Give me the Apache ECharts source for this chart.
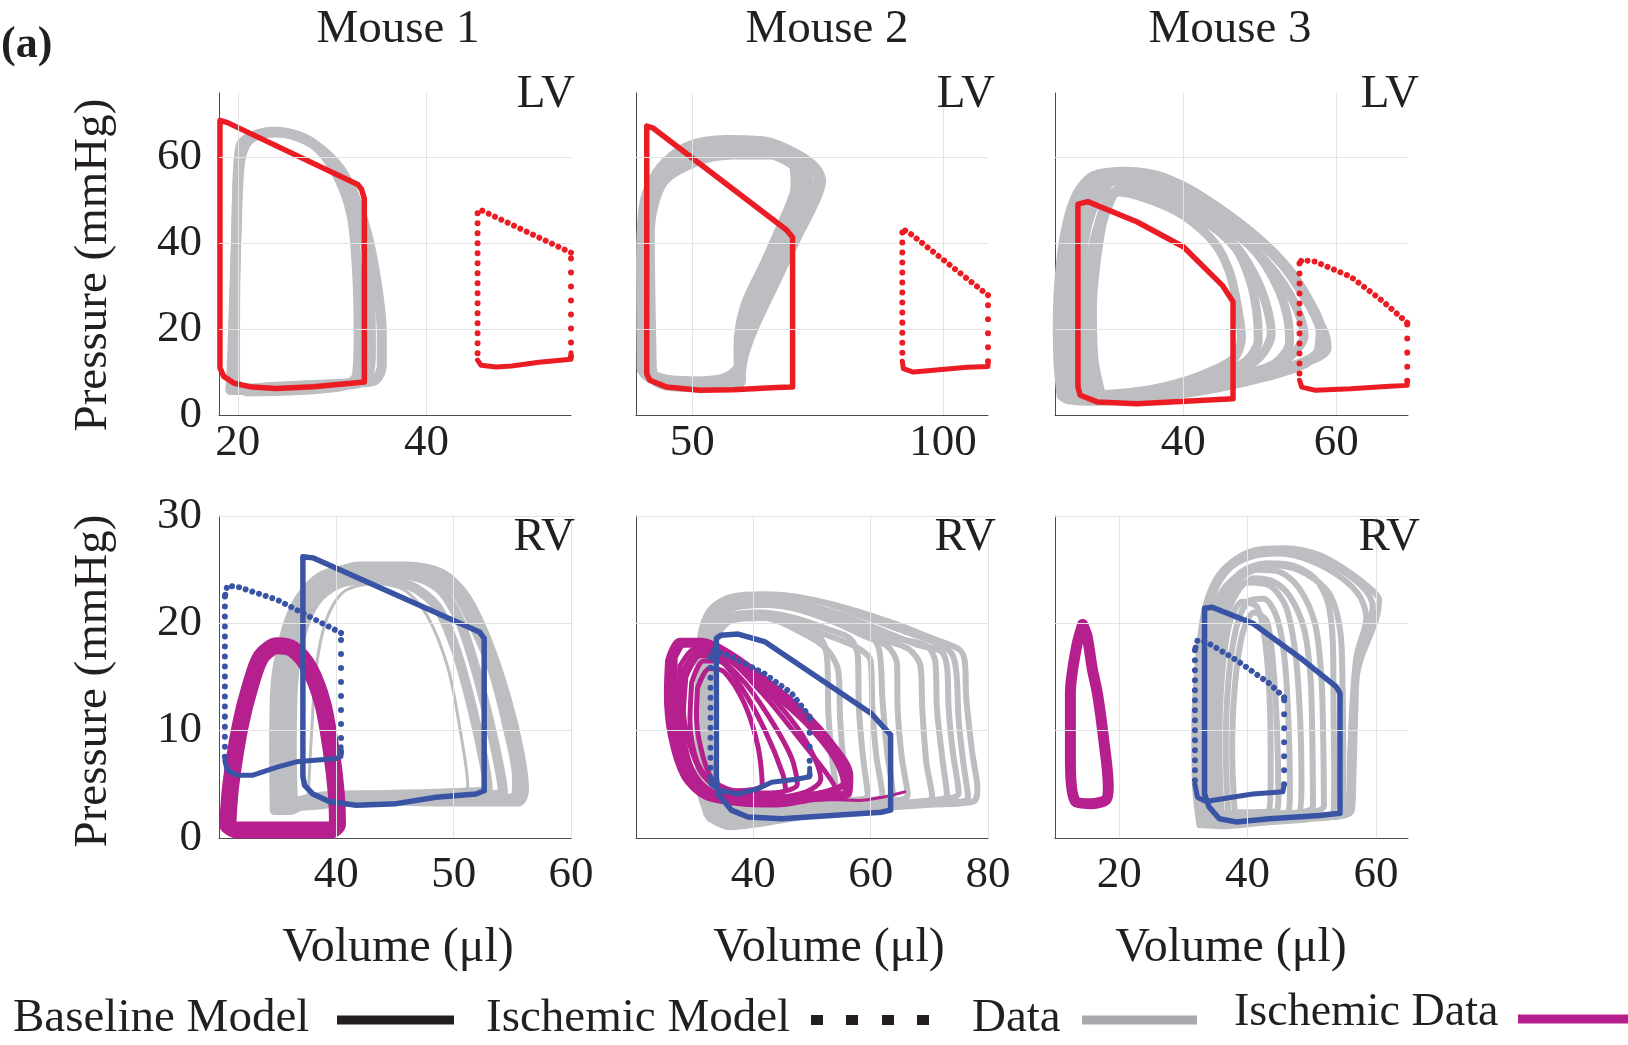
<!DOCTYPE html>
<html><head><meta charset="utf-8">
<script src="https://cdn.jsdelivr.net/npm/echarts@6/dist/echarts.min.js"></script>
<style>html,body{margin:0;padding:0;background:#fff}#c{width:1628px;height:1045px}</style>
</head><body><div id="c"></div>
<script>
// ---------- tick labels / grid values ----------
const lvYTicks = [0, 20, 40, 60];
const rvYTicks = [0, 10, 20, 30];
const lvYGrid = [20, 40, 60];
const rvYGrid = [10, 20, 30];
const p1XTicks = [20, 40];
const p2XTicks = [50, 100];
const p3XTicks = [40, 60];
const p4XTicks = [40, 50, 60];
const p5XTicks = [40, 60, 80];
const p6XTicks = [20, 40, 60];
const xRanges = [[18, 55.3], [38.75, 109], [23.2, 69.4], [30, 60], [20, 80], [10, 65]];
const mouseTitles = ['Mouse 1', 'Mouse 2', 'Mouse 3'];

// ---------- Panel 1: LV, Mouse 1 ----------
const p1DataA = [[19.2,5.8],[19.35,11.2],[19.75,34.5],[20.15,57.3],[20.8,63],[22,65.2],[23.8,66.0],[26.3,64.9],[28.9,61.7],[31.3,55.8],[33.3,45.3],[34.55,33],[35.25,19],[35.25,11.4],[34.6,8.2],[33.3,7.6],[23.3,6.5],[20.2,5.8],[19.2,5.8]];
const p1DataB = [[19.7,8.0],[19.7,19],[19.9,50],[20.3,62.8],[21.4,64.8],[24.1,65.9],[27.8,63.5],[30.3,56.8],[32.0,47],[32.6,34.5],[32.8,19],[32.6,9.2],[30.8,6.6],[21,5.5],[19.9,7.0],[19.7,8.0]];
const p1DataC = [[19.5,6.5],[19.5,15],[19.8,40],[20.2,60],[21.2,64.5],[23.9,65.8],[27,64.4],[29.7,59.5],[32,51],[33.5,40],[34.0,28],[34.1,15],[33.8,9],[32.5,7.3],[23,6.3],[20.2,6.2],[19.5,6.5]];
const p1Base = [[33.4,7.7],[33.4,50.4],[33.1,52.6],[32.7,53.7],[18.9,68.1],[18.1,68.6],[18.1,11],[18.5,9.0],[19.6,7.4],[21.5,6.5],[24,6.2],[28,6.6],[33.4,7.7]];
const p1IschContr = [[55.3,13.6],[55.3,37.8]];
const p1IschEject = [[55.3,37.8],[45.7,47.8],[45.4,47.4]];
const p1IschRelax = [[45.4,47.0],[45.4,12.8]];
const p1IschFill = [[45.4,12.8],[45.75,11.6],[47.4,11.2],[49,11.4],[51.9,12.3],[55.3,13.0],[55.3,14.5]];

// ---------- Panel 2: LV, Mouse 2 ----------
const p2DataA = [[40.1,10.6],[39.95,34.5],[40.7,49.8],[43.8,57.4],[49.2,62.3],[56.9,63.8],[64.6,63.4],[70.8,60.5],[74.4,57.4],[75.5,54.6],[74.4,50.3],[70.4,40.9],[65.7,29.4],[61.7,19.4],[59.8,12.9],[59.2,9.2],[54.9,7.5],[45,7.9],[41.1,9.2],[40.1,10.6]];
const p2DataB = [[41.7,11.2],[41.3,42.3],[43.8,54.1],[50.5,59.2],[58.2,60.9],[66.4,60.9],[70.5,58.0],[70.8,53.2],[68.7,46.0],[64.7,35.3],[60.7,25.2],[59.4,15.9],[59.5,8.0],[51.5,6.7],[44.9,7.1],[42.3,8.5],[41.7,11.2]];
const p2DataC = [[40.9,10.8],[40.6,38],[41.8,51.5],[46.5,59.5],[53.5,62.2],[61.5,62.3],[68.5,59.7],[72.5,56],[73.1,53.8],[71.5,48.2],[67.5,39],[63.2,27.5],[60.5,18.5],[59.4,11],[56,8.2],[48,7.5],[42.5,8.8],[40.9,10.8]];
const p2Base = [[70.0,6.5],[70.0,41.4],[68.8,43.1],[42.2,66.8],[40.9,67.3],[40.9,9.6],[41.5,8.1],[44.9,6.5],[51.5,5.75],[58.2,5.9],[66.8,6.4],[70.0,6.5]];
const p2IschContr = [[109,12.5],[109,27.9]];
const p2IschEject = [[109,27.9],[93,42.7],[92.2,43.1],[91.9,42.5]];
const p2IschRelax = [[91.9,42.5],[91.9,12.5]];
const p2IschFill = [[91.9,12.5],[92.1,10.8],[94.1,10.0],[98.1,10.4],[104.8,11.1],[109,11.3],[109,12.5]];

// ---------- Panel 3: LV, Mouse 3 ----------
const p3DataA = [[24.0,4.5],[23.6,12],[23.5,22],[23.9,35],[24.8,45],[26.2,52],[28.3,55.8],[32.5,56.8],[37.5,55.3],[42.5,50.3],[48.5,42.3],[52.8,35.3],[55.5,28.5],[57.5,22],[58.3,16.5],[56,12],[50,8.5],[42,5.5],[34,3.8],[28,3.2],[24.8,3.6],[24.0,4.5]];
const p3DataB = [[25.2,4.5],[24.8,14],[24.9,28],[25.6,42],[27,50],[29.5,54],[33.5,54.6],[38.5,52],[44,46],[49,39],[52.5,32],[54.8,25],[55.8,18.5],[53.5,13],[48.5,9.5],[41,6.5],[33,4.5],[27.5,4.0],[25.2,4.5]];
const p3DataC = [[27.5,4.5],[27.0,12],[27.2,24],[27.8,36],[29.0,45],[30.5,51.5],[33,52.5],[37.5,50.3],[42,46],[46.5,40],[49.2,33],[50.8,26],[51.5,19],[50,13.5],[46.5,9.5],[40,7],[33,5],[27.5,4.5]];
const p3DataD = [[29.3,4.5],[28.3,13],[28.1,25],[28.8,38.4],[30.0,49],[31.3,52],[35.4,50.3],[40,46.5],[44.1,40],[46.1,33],[47.2,24],[47.6,18],[46.5,13],[42,9],[36,6],[29.3,4.5]];
const p3DataE = [[26,5],[25.5,15],[26,30],[26.8,44],[28.5,53],[31,56],[35,56],[40,53],[45.5,47],[50.5,40],[54,33],[56.5,26],[58.5,19],[58.8,15.5],[57,13],[52,10.5],[45,8],[37,5.5],[30,4.2],[26,5]];
const p3DataF = [[26.5,4.8],[26.0,14],[26.3,28],[27.2,42],[28.8,50.5],[31.2,54.8],[35,55],[39.5,52],[45,45.5],[49.5,38],[52.3,30],[53.6,23],[53.9,17],[52,12],[47,9],[40,6.2],[33,4.5],[26.5,4.8]];
const p3DataG = [[28.3,4.6],[27.7,13],[27.8,26],[28.5,38],[29.8,47],[31.6,52.8],[34.2,53.2],[38.8,50.5],[43.2,45],[47,38.5],[48.8,31],[49.6,24],[49.8,17.5],[48.2,12.5],[44,9],[37,6],[28.3,4.6]];
const p3DataH = [[24.6,4.2],[24.2,13],[24.1,25],[24.7,38],[25.6,47],[27.3,53.5],[30,56.3],[34.5,56.2],[39.5,53.8],[44.2,48.8],[49.8,41.2],[53.8,34],[56.3,27.2],[57.9,20.5],[57.6,14.8],[54,11.2],[48,8.2],[40,5.2],[32,3.6],[27,3.4],[24.6,4.2]];
const p3Base = [[46.5,3.8],[46.5,26.4],[45.1,30.2],[40,39.2],[33.9,45.0],[27.5,49.7],[26.2,49.1],[26.2,6.5],[26.5,4.6],[28.8,3.0],[33.9,2.6],[41.5,3.3],[46.5,3.8]];
const p3IschContr = [[69.3,8.0],[69.3,21.5]];
const p3IschEject = [[69.3,21.5],[65.95,26.7],[61.9,32.2],[57.3,35.7],[55.5,36.1],[55.2,35.3]];
const p3IschRelax = [[55.2,35.3],[55.2,8.1]];
const p3IschFill = [[55.2,8.1],[55.5,6.5],[57.3,5.75],[61.9,6.1],[67,6.7],[69.3,6.9],[69.3,8.0]];

// ---------- Panel 4: RV, Mouse 1 ----------
const p4DataA = [[34.75,2.6],[34.7,8],[34.8,14],[35.5,18.5],[36.7,22],[38.6,24.3],[41.2,25.0],[45,24.9],[48.3,24.4],[50.1,23],[51.4,20.5],[53.3,15.7],[54.6,10.3],[55.4,5.5],[55.3,3.9],[53.5,3.6],[47,3.8],[41,3.7],[37.5,3.3],[36,2.6],[34.75,2.6]];
const p4DataB = [[36.3,3.3],[36.2,8],[36.3,14],[36.9,18.5],[38.2,22],[40.2,23.7],[43,24.1],[46.3,23.5],[48.6,21.5],[50.2,17.5],[51.6,12],[52.6,7],[52.9,4.5],[50,4.2],[44,4.0],[39,3.9],[36.3,3.3]];
const p4DataC = [[37.6,4.0],[37.9,10],[38.3,16],[39.2,20.5],[40.7,23.0],[43.4,23.7],[45.8,23.1],[47.8,20.6],[49.5,15.9],[50.5,10.4],[51.2,4.8],[50,4.3],[44,4.2],[40,4.1],[37.6,4.0]];
const p4DataD = [[35.5,3],[35.5,9],[35.8,16],[37,21],[39,24],[42,25.3],[46,25.3],[49,24.6],[51,22.5],[52.8,18.5],[54.5,13],[55.6,8],[56.0,4.5],[55.5,3.4],[50,3.4],[42,3.5],[37,3.0],[35.5,3]];
const p4DataE = [[35.8,3.2],[35.7,9],[36.0,15],[37.2,20],[39.2,23.3],[42,24.6],[45.5,24.6],[48.6,23.4],[50.4,20.5],[51.8,16],[53.0,11],[53.9,6.5],[54.2,4.2],[50,3.9],[44,3.9],[39,3.6],[35.8,3.2]];
const p4IschData = [[30.75,1.2],[31.0,4.9],[31.8,10.4],[32.7,14.3],[33.6,16.9],[34.95,17.9],[36.3,17.6],[37.7,15.8],[38.85,12.5],[39.6,7.9],[40.0,4.1],[40.1,1.3],[39.5,0.75],[34.95,0.75],[31.5,0.75],[30.75,1.2]];
const p4Base = [[52.6,4.4],[52.6,18.6],[52.2,19.2],[38.0,26.1],[37.15,26.2],[37.15,5.7],[37.3,4.9],[38.0,4.1],[39.4,3.4],[41.7,3.05],[45.1,3.2],[48.5,3.8],[51.9,4.1],[52.6,4.4]];
const p4IschContr = [[40.4,8.0],[40.4,19.1]];
const p4IschEject = [[40.4,19.1],[34.95,22.2],[31.6,23.4],[30.7,23.5],[30.5,22.5]];
const p4IschRelax = [[30.5,22.5],[30.5,7.2]];
const p4IschFill = [[30.5,7.2],[30.7,6.3],[31.6,5.85],[32.9,5.85],[34.95,6.6],[36.6,7.1],[40.0,7.4],[40.4,7.6],[40.4,8.5]];

// ---------- Panel 5: RV, Mouse 2 ----------
const p5DataA = [[32.5,1.8],[31.0,4],[30.5,10],[30.6,16],[31.2,19.5],[33,21.5],[36.5,22.5],[42,22.7],[48,22.4],[56,21.4],[64.5,19.9],[70.5,18.6],[75,17.6],[76,16.6],[76.3,13],[77.3,8],[78.2,4.5],[77.5,3.4],[70,3.1],[60,2.7],[50,2.1],[41,1.3],[36,1.0],[32.5,1.8]];
const p5DataB = [[33,2.5],[31.5,6],[31.2,12],[31.5,17],[32.8,19.8],[36,21.3],[42,21.7],[49,21.2],[56,19.8],[62,18.5],[66.5,17.6],[68.5,16],[68.8,12],[69.5,7],[70.5,3.8],[65,3.2],[55,2.8],[45,2.2],[38,1.8],[33,2.5]];
const p5DataC = [[33.5,3],[32,7],[31.8,13],[32.4,18],[34.5,20.3],[39,20.8],[46,20.2],[52,19],[57.5,17.8],[60,16.5],[60.3,12],[61,7.5],[62,4],[56,3.4],[47,2.9],[39,2.4],[33.5,3]];
const p5DataD = [[34,3.5],[32.6,8],[32.7,14],[33.5,18.5],[36.5,20.3],[42,20.5],[48,19.2],[52.5,17.6],[54.5,15.5],[54.8,11],[55.5,6.5],[56.3,4.0],[50,3.5],[42,3.0],[34,3.5]];
const p5DataE = [[32,2.2],[30.8,5.5],[30.5,11],[30.8,17.5],[32.3,20.6],[35,22],[40,22.4],[47,22.0],[55,20.8],[62,19.3],[68,18],[72,17.4],[73,16],[73.3,12],[74,8],[75,4.2],[70,3.5],[60,3.0],[50,2.5],[40,1.6],[35,1.4],[32,2.2]];
const p5DataF = [[33,2.8],[31.8,7],[31.6,13],[32.2,18.5],[34.5,21],[39,21.8],[46,21.5],[53,20.3],[59,18.8],[63,17.8],[64.5,16.2],[64.6,12],[65.3,7.5],[66.3,4],[60,3.3],[50,2.7],[40,2.2],[33,2.8]];
const p5DataG = [[33.5,3.2],[32.2,8],[32.3,14],[33,18.7],[35.5,20.6],[41,21],[47,20.5],[53,19.4],[56.5,18.6],[57.8,17],[58,12],[58.7,7.5],[59.5,4],[53,3.4],[44,2.8],[37,2.6],[33.5,3.2]];
const p5DataH = [[32.3,2.0],[31.2,5],[30.9,11],[31.0,17],[32,20.5],[34.5,21.9],[39,22.6],[45,22.6],[52,21.9],[59,20.6],[66,19.2],[71,18.2],[73.8,17.2],[74.6,15.5],[75,11],[75.8,7],[76.6,3.8],[70,3.2],[60,2.8],[50,2.3],[40,1.4],[32.3,2.0]];
const p5DataI = [[33.2,2.6],[31.9,6],[31.7,12],[32.1,18],[33.5,20.8],[37,21.8],[43,22.1],[50,21.5],[56,20.2],[60,19.0],[61.5,17.4],[62,13],[62.8,8],[63.8,4],[58,3.3],[48,2.6],[40,2.0],[33.2,2.6]];
const p5DataJ = [[33.8,3.3],[32.5,7.5],[32.5,13.5],[33.2,18.8],[36,20.6],[41,20.8],[47,20],[51.5,18.6],[52.6,16.5],[52.8,11.5],[53.5,7],[54.2,4.2],[48,3.6],[40,3.1],[33.8,3.3]];
const p5DataK = [[32.7,2.4],[31.5,6.5],[31.3,12.5],[31.7,18],[33.3,21.0],[37,22.0],[44,22.0],[51,21.2],[58,19.8],[64.5,18.6],[69.5,17.9],[71,16.5],[71.3,12],[72.2,7.5],[73,4.0],[66,3.3],[55,2.8],[45,2.0],[36,1.6],[32.7,2.4]];
const p5IschA = [[25.8,16.5],[27.5,18.2],[31,18.2],[36,17],[42,14.6],[48,11.8],[53,8.8],[56.2,5.8],[56,4.2],[50,3.8],[44,3.3],[38,3.4],[32,4.0],[28.5,5.8],[26.3,9.5],[25.6,13.5],[25.8,16.5]];
const p5IschB = [[27.5,16],[30,17.6],[34,17.2],[40,14.8],[45,12],[49,9],[51.5,5.5],[49,4.3],[42,3.7],[36,3.8],[31,5],[28.3,8],[27.3,12],[27.5,16]];
const p5IschC = [[29.5,14.5],[31.5,16.5],[34,16.5],[38,14],[42,10],[45,6],[45.5,4.5],[40,4.0],[34,4.6],[30.5,7],[29.2,11],[29.5,14.5]];
const p5IschD = [[28.5,15],[31,17],[35,16.8],[41.5,13.5],[47.5,9.5],[52.5,6.0],[54,4.6],[48,4.0],[40,3.6],[33,4.2],[29.5,6.5],[28,10.5],[28.5,15]];
const p5IschE = [[26.5,16.8],[28.5,18.3],[32.5,18.0],[37.5,16.3],[43.5,13.5],[49.5,10.5],[54,7.4],[55.5,5.2],[52,4.2],[45,3.6],[39,3.5],[33,4.2],[29.3,6.2],[27.2,9.8],[26.5,13.5],[26.5,16.8]];
const p5IschF = [[28,15.5],[30.5,17.3],[33.5,17.0],[38.5,14.5],[43,11],[46.5,7.5],[47.5,5],[43,4.2],[36,4.2],[31.5,5.8],[29,9],[28,12.5],[28,15.5]];
const p5IschG = [[30.5,14],[32.5,15.8],[35,15.5],[38.5,12.5],[40.8,8.5],[41.5,5],[37,4.4],[33,5.5],[31,8.5],[30.3,11.5],[30.5,14]];
const p5IschTail = [[52,3.6],[58,3.5],[62,3.8],[65.8,4.3]];
const p5Base = [[63.4,2.6],[63.4,9.6],[60.1,11.6],[41.9,18.3],[37.4,19.0],[34.5,18.9],[33.7,18.6],[33.7,5.7],[34.0,4.1],[36.25,2.6],[39.1,1.96],[44.8,1.8],[53.3,2.1],[61.8,2.4],[63.4,2.6]];
const p5IschContr = [[49.6,5.9],[49.6,11.3]];
const p5IschEject = [[49.6,11.3],[46.5,13.5],[41.9,15.3],[36.25,16.9],[33.1,17.5],[32.7,16.8]];
const p5IschRelax = [[32.7,16.8],[32.7,5.7]];
const p5IschFill = [[32.7,5.7],[32.8,5.0],[34.5,4.4],[37.4,4.1],[40.8,4.6],[43.1,5.2],[47.6,5.5],[49.6,5.7],[49.6,6.5]];

// ---------- Panel 6: RV, Mouse 3 ----------
const p6DataA = [[32.5,1.2],[31.8,5],[31.7,10],[32.2,16],[33.2,21],[35,24],[37.5,25.7],[41,26.8],[46,27],[51,26.4],[55.3,25],[58.8,23.4],[60.5,22.2],[60.0,20.3],[57.6,16.6],[56.6,13.5],[56.0,8],[55.6,2.5],[50,1.8],[42,1.4],[36,1.1],[32.5,1.2]];
const p6DataB = [[33.5,1.5],[32.6,6],[32.8,13],[33.8,19],[35.5,22.5],[38.5,24.5],[42,25.4],[46,25.3],[50,24.3],[53,22.5],[54.5,19],[54.8,14],[54.9,8],[54.8,2.6],[48,2.0],[40,1.6],[33.5,1.5]];
const p6DataC = [[34.5,2],[33.7,7],[34.0,14],[35,19.5],[37,22.5],[40,23.8],[43.5,23.5],[46,21.5],[47.5,17],[48.2,11],[48.4,5],[48,2.3],[42,2.0],[34.5,2]];
const p6DataD = [[36,2.2],[35.6,8],[36,15],[37.2,20],[39.2,22],[41.5,21.5],[42.8,18],[43.5,12],[43.6,6],[43.3,2.5],[39,2.3],[36,2.2]];
const p6DataE = [[33,1.3],[32.3,6],[32.3,12],[33,18],[34.5,22.5],[37,25],[40.5,26.2],[45,26.5],[50,25.8],[54.5,24.3],[57.5,22.5],[58.5,20.5],[57,17],[56.3,12],[56.0,6],[55.8,2.4],[48,1.8],[40,1.4],[33,1.3]];
const p6DataF = [[35,1.8],[34.4,7],[34.6,14],[35.8,20],[38,23.6],[41.5,25],[45,24.8],[48,23.3],[50.5,20],[51.5,15],[51.8,9],[51.9,3],[45,2.2],[35,1.8]];
const p6DataG = [[38,2.4],[37.6,8],[38,14],[39.2,19],[41,21],[43,20.2],[44,16],[44.6,10],[44.8,4],[44.5,2.5],[38,2.4]];
const p6DataH = [[34,1.6],[33.2,6],[33.3,12],[34.2,18.5],[36,22.5],[39,24.8],[43,25.6],[47,25.4],[50.5,24.2],[52.5,22],[53.3,18],[53.4,12],[53.5,6],[53.4,2.4],[47,1.9],[40,1.6],[34,1.6]];
const p6DataI = [[35.5,2],[34.9,7],[35.2,14],[36.4,20],[38.5,23],[41,24.2],[44,23.9],[46.6,22.5],[48.8,19.5],[49.8,15],[50.1,9],[50.2,3],[44,2.2],[35.5,2]];
const p6DataJ = [[33.2,1.4],[32.5,6],[32.5,12.5],[33.4,19],[35,23.2],[37.8,25.5],[41.5,26.6],[46,26.8],[51,26.1],[55.5,24.6],[58.5,23],[59.5,21.5],[58.8,19.5],[57.2,16.2],[56.8,12],[56.5,6],[56.2,2.5],[48,1.8],[40,1.4],[33.2,1.4]];
const p6DataK = [[37,2.3],[36.6,8],[37,14.5],[38.2,19.5],[40,22],[42.5,22.3],[44.6,20.5],[45.8,16.5],[46.4,10.5],[46.6,4.5],[46.3,2.4],[40,2.3],[37,2.3]];
const p6IschData = [[14.3,19.9],[13.35,17.8],[12.4,13.5],[12.4,7.2],[13.2,3.4],[15.5,3.2],[18.0,3.6],[18.3,4.8],[17.5,9.6],[16.6,13.5],[15.8,15.8],[15.0,18.8],[14.3,19.9]];
const p6Base = [[54.4,2.3],[54.4,13.5],[53.8,14.1],[48.6,16.6],[40.8,20.0],[34.5,21.5],[33.3,21.4],[33.3,4.1],[34.0,2.9],[35.6,1.8],[38.2,1.5],[43.4,1.8],[51.2,2.1],[54.4,2.3]];
const p6IschContr = [[45.7,5.0],[45.7,13.1]];
const p6IschEject = [[45.7,13.1],[43.4,14.4],[38.2,16.6],[33.5,18.3],[32.2,18.4],[31.8,17.5]];
const p6IschRelax = [[31.8,17.5],[31.8,5.0]];
const p6IschFill = [[31.8,5.0],[32.2,3.8],[33.5,3.4],[36.6,3.7],[40.8,4.1],[45.5,4.3],[45.7,5.0]];

// ---------- styling ----------
const FONT = '"Liberation Serif", "Times New Roman", serif';
const TXT = '#231f20';
const GRAY = '#bdbec1';
const RED = '#ec1c24';
const BLUE = '#3a54a5';
const MAG = '#b6208e';

const grids = [
  {left: 219, top: 93, width: 352, height: 322},
  {left: 636, top: 93, width: 352, height: 322},
  {left: 1055, top: 93, width: 353, height: 322},
  {left: 219, top: 516, width: 352, height: 322},
  {left: 636, top: 516, width: 352, height: 322},
  {left: 1055, top: 516, width: 353, height: 322}
];
const xTicks = [p1XTicks, p2XTicks, p3XTicks, p4XTicks, p5XTicks, p6XTicks];

const xAxes = grids.map((g, i) => ({
  type: 'value', gridIndex: i, min: xRanges[i][0], max: xRanges[i][1],
  axisLine: {show: true, onZero: false, lineStyle: {color: '#4d4d4d', width: 1}},
  axisTick: {show: true, inside: true, length: 5, customValues: xTicks[i], lineStyle: {color: '#4d4d4d'}},
  axisLabel: {show: true, customValues: xTicks[i], margin: i < 3 ? 6 : 15,
    fontFamily: FONT, fontSize: 45, color: TXT},
  splitLine: {show: false}
}));
const yAxes = grids.map((g, i) => {
  const lv = i < 3;
  return {
    type: 'value', gridIndex: i, min: 0, max: lv ? 75 : 30,
    axisLine: {show: true, onZero: false, lineStyle: {color: '#4d4d4d', width: 1}},
    axisTick: {show: true, inside: true, length: 5, customValues: lv ? lvYGrid : rvYGrid, lineStyle: {color: '#4d4d4d'}},
    axisLabel: {show: i === 0 || i === 3, customValues: lv ? lvYTicks : rvYTicks, margin: 17,
      fontFamily: FONT, fontSize: 45, color: TXT},
    splitLine: {show: false}
  };
});

const series = [];
function gridLines(i) {
  const ys = i < 3 ? lvYGrid : rvYGrid;
  const d = xTicks[i].map(v => ({xAxis: v})).concat(ys.map(v => ({yAxis: v})));
  series.push({type: 'line', xAxisIndex: i, yAxisIndex: i, data: [], silent: true, z: 1,
    markLine: {silent: true, symbol: ['none', 'none'], label: {show: false}, animation: false,
      lineStyle: {color: '#e3e3e3', width: 1, type: 'solid'}, emphasis: {disabled: true}, data: d}});
}
function loop(i, data, color, width, smooth, z) {
  series.push({type: 'line', xAxisIndex: i, yAxisIndex: i, data: data, showSymbol: false, symbol: 'none',
    smooth: smooth, clip: false, z: z, silent: true, emphasis: {disabled: true},
    lineStyle: {color: color, width: width, join: 'round', cap: 'round'}});
}
function dots(i, data, color, pitch) {
  series.push({type: 'line', xAxisIndex: i, yAxisIndex: i, data: data, showSymbol: false, symbol: 'none',
    clip: false, z: 5, silent: true, emphasis: {disabled: true},
    lineStyle: {color: color, width: 6, type: [0.01, pitch], cap: 'round'}});
}
function ischemicModel(i, contr, eject, relax, fill, color) {
  dots(i, contr, color, 14);
  dots(i, eject, color, 7);
  dots(i, relax, color, 10);
  loop(i, fill, color, 5, false, 5);
}

for (let i = 0; i < 6; i++) gridLines(i);
// panel 1
[p1DataA, p1DataB, p1DataC].forEach(d => loop(0, d, GRAY, 10, 0.3, 2));
loop(0, p1Base, RED, 5.5, false, 4);
ischemicModel(0, p1IschContr, p1IschEject, p1IschRelax, p1IschFill, RED);
// panel 2
[p2DataA, p2DataB, p2DataC].forEach(d => loop(1, d, GRAY, 12, 0.3, 2));
loop(1, p2Base, RED, 5.5, false, 4);
ischemicModel(1, p2IschContr, p2IschEject, p2IschRelax, p2IschFill, RED);
// panel 3
[p3DataA, p3DataH, p3DataB, p3DataC, p3DataD, p3DataE, p3DataF, p3DataG].forEach(d => loop(2, d, GRAY, 9, 0.3, 2));
loop(2, p3Base, RED, 5.5, false, 4);
ischemicModel(2, p3IschContr, p3IschEject, p3IschRelax, p3IschFill, RED);
// panel 4
[p4DataA, p4DataD, p4DataE, p4DataB].forEach(d => loop(3, d, GRAY, 10, 0.3, 2));
loop(3, p4DataC, GRAY, 3, 0.3, 2);
loop(3, p4IschData, MAG, 17, 0.3, 3);
loop(3, p4Base, BLUE, 5.5, false, 4);
ischemicModel(3, p4IschContr, p4IschEject, p4IschRelax, p4IschFill, BLUE);
// panel 5
[p5DataA, p5DataH, p5DataE, p5DataK, p5DataB, p5DataF, p5DataI, p5DataC, p5DataG, p5DataD, p5DataJ].forEach(d => loop(4, d, GRAY, 6, 0.3, 2));
loop(4, p5IschA, MAG, 10, 0.3, 3);
loop(4, p5IschE, MAG, 7, 0.3, 3);
[p5IschB, p5IschD, p5IschF, p5IschC, p5IschG].forEach(d => loop(4, d, MAG, 5, 0.3, 3));
loop(4, p5IschTail, MAG, 3, 0.3, 3);
loop(4, p5Base, BLUE, 5.5, false, 4);
ischemicModel(4, p5IschContr, p5IschEject, p5IschRelax, p5IschFill, BLUE);
// panel 6
[p6DataA, p6DataJ, p6DataE, p6DataB, p6DataH, p6DataF, p6DataI, p6DataC, p6DataK, p6DataG, p6DataD].forEach(d => loop(5, d, GRAY, 6, 0.3, 2));
loop(5, p6IschData, MAG, 11, 0.3, 3);
loop(5, p6Base, BLUE, 5.5, false, 4);
ischemicModel(5, p6IschContr, p6IschEject, p6IschRelax, p6IschFill, BLUE);

// ---------- texts & legend ----------
function txt(t, x, y, opt) {
  opt = opt || {};
  return {type: 'text', x: x, y: y, rotation: opt.rot || 0, z: 10, silent: true,
    style: {text: t, fill: TXT, font: (opt.bold ? 'bold ' : '') + (opt.size || 47) + 'px ' + FONT,
      align: opt.align || 'center', verticalAlign: 'middle'}};
}
const graphic = [
  txt('(a)', 1, 46, {align: 'left', bold: true, size: 44}),
  txt(mouseTitles[0], 398, 30),
  txt(mouseTitles[1], 827, 30),
  txt(mouseTitles[2], 1230, 30),
  txt('LV', 575, 95),
  txt('LV', 995, 95, {align: 'right'}),
  txt('LV', 1419, 95, {align: 'right'}),
  txt('RV', 575, 538, {align: 'right'}),
  txt('RV', 996, 538, {align: 'right'}),
  txt('RV', 1420, 538, {align: 'right'}),
  txt('Pressure (mmHg)', 94, 265, {rot: Math.PI / 2}),
  txt('Pressure (mmHg)', 94, 681, {rot: Math.PI / 2}),
  txt('Volume (\u03bcl)', 398, 948, {size: 48}),
  txt('Volume (\u03bcl)', 829, 948, {size: 48}),
  txt('Volume (\u03bcl)', 1231, 948, {size: 48}),
  txt('Baseline Model', 13, 1019, {align: 'left'}),
  {type: 'line', silent: true, shape: {x1: 337, y1: 1020, x2: 454, y2: 1020}, style: {stroke: TXT, lineWidth: 9}},
  txt('Ischemic Model', 486, 1019, {align: 'left'}),
  {type: 'rect', silent: true, shape: {x: 811, y: 1015, width: 12, height: 10}, style: {fill: TXT}},
  {type: 'rect', silent: true, shape: {x: 846, y: 1015, width: 12, height: 10}, style: {fill: TXT}},
  {type: 'rect', silent: true, shape: {x: 882, y: 1015, width: 12, height: 10}, style: {fill: TXT}},
  {type: 'rect', silent: true, shape: {x: 917, y: 1015, width: 12, height: 10}, style: {fill: TXT}},
  txt('Data', 972, 1019, {align: 'left'}),
  {type: 'line', silent: true, shape: {x1: 1082, y1: 1020, x2: 1197, y2: 1020}, style: {stroke: '#a7a9ac', lineWidth: 9}},
  txt('Ischemic Data', 1234, 1013, {align: 'left', size: 46}),
  {type: 'line', silent: true, shape: {x1: 1518, y1: 1019, x2: 1628, y2: 1019}, style: {stroke: MAG, lineWidth: 9}}
];
// LV in panel 1 is right aligned too
graphic[4].style.align = 'right';

const chart = echarts.init(document.getElementById('c'), null, {renderer: 'canvas'});
chart.setOption({
  animation: false,
  backgroundColor: '#ffffff',
  grid: grids.map(g => Object.assign({containLabel: false}, g)),
  xAxis: xAxes,
  yAxis: yAxes,
  series: series,
  graphic: graphic
});
</script></body></html>
